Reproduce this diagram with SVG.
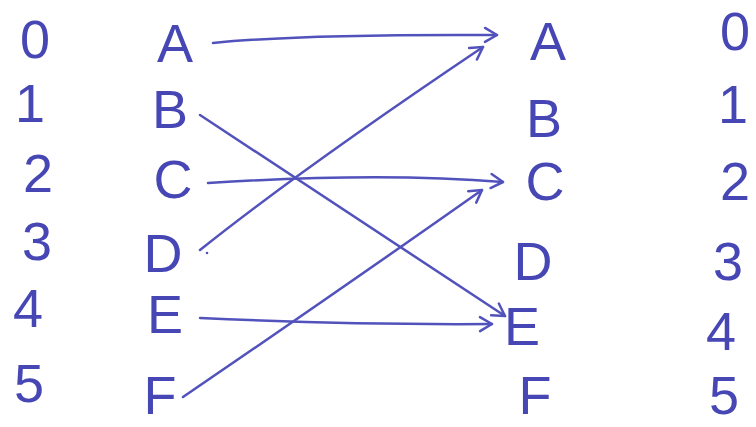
<svg xmlns="http://www.w3.org/2000/svg" width="756" height="427" viewBox="0 0 756 427">
<defs>
<style>
.t{font-family:"Liberation Sans",Arial,sans-serif;font-size:54px;fill:#4646b4;text-anchor:middle}
.c{fill:none;stroke:#5252bc;stroke-width:2.5;stroke-linecap:round;marker-end:url(#ah)}
</style>
<marker id="ah" markerUnits="userSpaceOnUse" markerWidth="30" markerHeight="30" viewBox="-15 -15 30 30" refX="0" refY="0" orient="auto">
<path d="M-12,-7 L0,0 L-12,7" fill="none" stroke="#5252bc" stroke-width="2.5" stroke-linecap="round" stroke-linejoin="round"/>
</marker>
</defs>
<rect width="756" height="427" fill="#ffffff"/>
<g id="left-index">
<text class="t" x="35" y="58">0</text>
<text class="t" x="30" y="122">1</text>
<text class="t" x="38" y="192">2</text>
<text class="t" x="37" y="260">3</text>
<text class="t" x="28" y="327">4</text>
<text class="t" x="29" y="402">5</text>
</g>
<g id="left-A"><text class="t" x="175" y="62">A</text></g>
<g id="left-B"><text class="t" x="170" y="128">B</text></g>
<g id="left-C"><text class="t" x="173" y="198">C</text></g>
<g id="left-D"><text class="t" x="163" y="272">D</text></g>
<g id="left-E"><text class="t" x="165" y="333">E</text></g>
<g id="left-F"><text class="t" x="160" y="414">F</text></g>
<g id="right-A"><text class="t" x="548" y="60">A</text></g>
<g id="right-B"><text class="t" x="544" y="137">B</text></g>
<g id="right-C"><text class="t" x="545" y="200">C</text></g>
<g id="right-D"><text class="t" x="533" y="280">D</text></g>
<g id="right-E"><text class="t" x="522" y="345">E</text></g>
<g id="right-F"><text class="t" x="535" y="414">F</text></g>
<g id="right-index">
<text class="t" x="735" y="50">0</text>
<text class="t" x="733" y="123">1</text>
<text class="t" x="735" y="200">2</text>
<text class="t" x="728" y="280">3</text>
<text class="t" x="721" y="350">4</text>
<text class="t" x="724" y="414">5</text>
</g>
<g id="connectors">
<path class="c" d="M213,43 Q300,34 497,35"/>
<path class="c" d="M200,115 Q260,155 505,316"/>
<path class="c" d="M208,183 Q380,172 503,182"/>
<path class="c" d="M200,250 Q300,170 483,47"/>
<path class="c" d="M200,318 Q350,325 492,324"/>
<path class="c" d="M183,397 Q340,290 482,190"/>
<circle cx="207" cy="253" r="1.3" fill="#5252bc"/>
</g>
</svg>
